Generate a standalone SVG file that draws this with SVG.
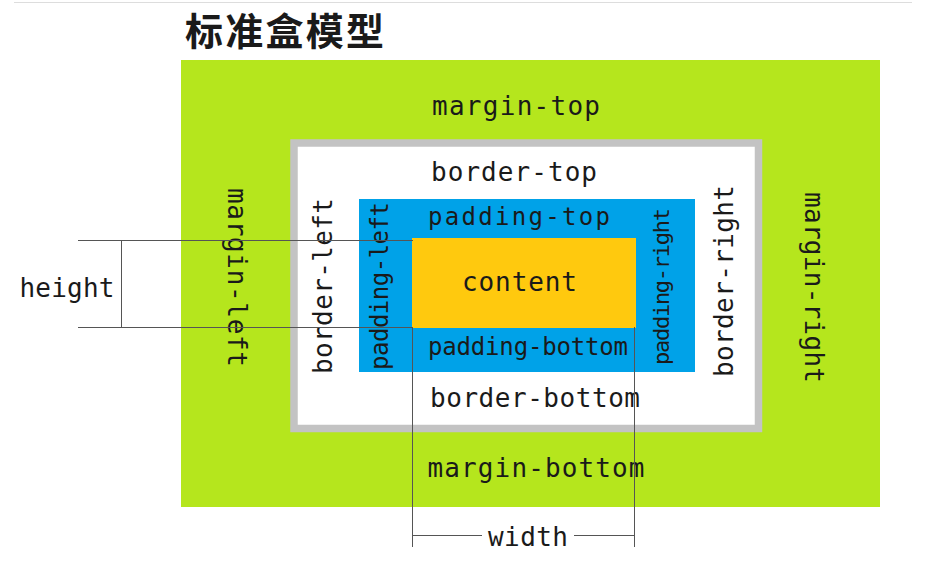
<svg xmlns="http://www.w3.org/2000/svg" width="928" height="568" viewBox="0 0 928 568">
  <style>
    .lbl { font-family: "DejaVu Sans Mono", "Liberation Mono", monospace; font-size: 26px; fill: #1a1a1a; text-anchor: middle; }
    .sm { font-size: 24px; }
    .xs { font-size: 22px; }
    .title { font-family: "Noto Sans CJK SC", "Noto Sans", sans-serif; font-size: 38px; font-weight: bold; fill: #1a1a1a; }
    .dim { stroke: #555555; stroke-width: 1; fill: none; }
  </style>
  <rect width="928" height="568" fill="#ffffff"/>
  <line x1="14" y1="2.5" x2="912" y2="2.5" stroke="#dddddd" stroke-width="1"/>
  <text class="title" x="185" y="45" textLength="199" lengthAdjust="spacing">标准盒模型</text>

  <g id="margin-box">
    <rect x="181" y="60" width="699" height="447" fill="#b5e61d"/>
    <text class="lbl" x="516" y="115" textLength="168" lengthAdjust="spacing">margin-top</text>
    <text class="lbl" x="536" y="477" textLength="217" lengthAdjust="spacing">margin-bottom</text>
    <text class="lbl" transform="translate(235,277.5) rotate(90)" x="0" y="7" textLength="179" lengthAdjust="spacing">margin-left</text>
    <text class="lbl" transform="translate(812,287.5) rotate(90)" x="0" y="7" textLength="191" lengthAdjust="spacing">margin-right</text>
  </g>

  <g id="border-box">
    <rect x="294" y="143" width="464.5" height="285.5" fill="#ffffff" stroke="#c3c3c3" stroke-width="7.5"/>
    <text class="lbl" x="514" y="181" textLength="166" lengthAdjust="spacing">border-top</text>
    <text class="lbl" x="535" y="407" textLength="210" lengthAdjust="spacing">border-bottom</text>
    <text class="lbl" transform="translate(325,286) rotate(-90)" x="0" y="7" textLength="176" lengthAdjust="spacing">border-left</text>
    <text class="lbl" transform="translate(726,281) rotate(-90)" x="0" y="7" textLength="192" lengthAdjust="spacing">border-right</text>
  </g>

  <g id="padding-box">
    <rect x="359" y="199" width="336" height="173" fill="#00a2e8"/>
    <text class="lbl sm" x="519" y="225" textLength="182" lengthAdjust="spacing">padding-top</text>
    <text class="lbl sm" x="528" y="355" textLength="200" lengthAdjust="spacing">padding-bottom</text>
    <text class="lbl sm" transform="translate(381,286) rotate(-90)" x="0" y="6.5" textLength="168" lengthAdjust="spacing">padding-left</text>
    <text class="lbl xs" transform="translate(663,286.5) rotate(-90)" x="0" y="6" textLength="157" lengthAdjust="spacing">padding-right</text>
  </g>

  <g id="content-box">
    <rect x="412" y="238" width="224" height="90" fill="#ffc90e"/>
    <text class="lbl" x="519.5" y="291" textLength="115" lengthAdjust="spacing">content</text>
  </g>

  <g id="connectors">
    <line class="dim" x1="78" y1="240.5" x2="413" y2="240.5"/>
    <line class="dim" x1="78" y1="327.5" x2="413" y2="327.5"/>
    <line class="dim" x1="121.5" y1="240" x2="121.5" y2="328"/>
    <line class="dim" x1="412.5" y1="327" x2="412.5" y2="547"/>
    <line class="dim" x1="634.5" y1="327" x2="634.5" y2="547"/>
    <line class="dim" x1="412" y1="535.5" x2="482" y2="535.5"/>
    <line class="dim" x1="574" y1="535.5" x2="635" y2="535.5"/>
  </g>

  <g id="dimension-labels">
    <text class="lbl" x="67" y="297" textLength="95" lengthAdjust="spacing">height</text>
    <text class="lbl" x="528" y="546" textLength="80" lengthAdjust="spacing">width</text>
  </g>
</svg>
